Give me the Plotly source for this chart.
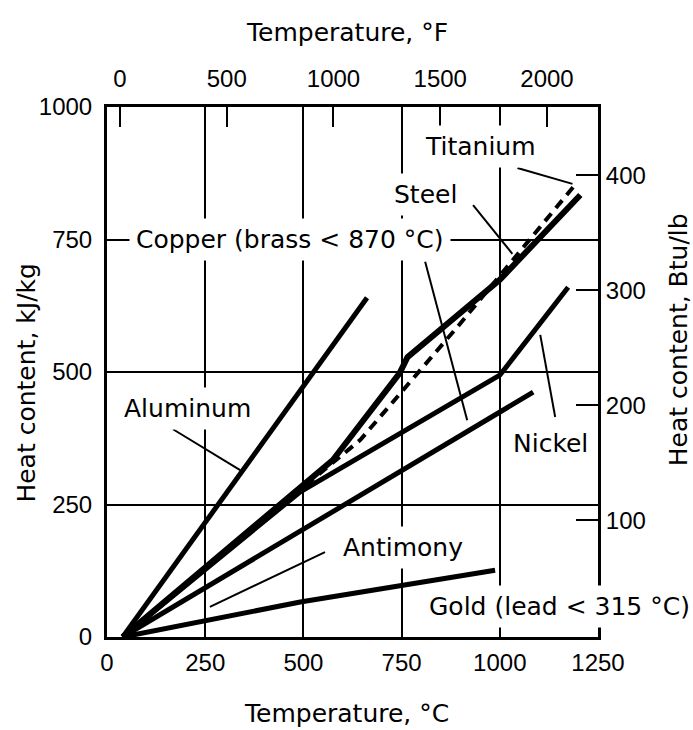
import plotly.graph_objects as go

# ---------------- data (°C, kJ/kg) ----------------
aluminum_T = [40, 662]
aluminum_H = [0, 640]

steel_T = [40, 575, 745, 765, 1000, 1205]
steel_H = [0, 334, 498, 528, 674, 834]

titanium_T = [40, 645, 892, 1197]
titanium_H = [0, 372, 585, 858]

nickel_T = [40, 492, 1000, 1174]
nickel_H = [0, 274, 494, 660]

copper_T = [40, 1085]
copper_H = [0, 462]

gold_T = [40, 492, 988]
gold_H = [0, 66, 126]

x_ticks_C = [0, 250, 500, 750, 1000, 1250]
y_ticks_kJ = [0, 250, 500, 750, 1000]
x_ticks_F = [0, 500, 1000, 1500, 2000]
y_ticks_Btu = [100, 200, 300, 400]

# ---------------- styling / layout ----------------
LABEL_FONT = dict(family="DejaVu Sans", size=25, color="black")
TICK_FONT = dict(family="Liberation Sans, Arial", size=24, color="black")

fig = go.Figure()

series = [
    ("Aluminum", aluminum_T, aluminum_H, dict(color="black", width=5)),
    ("Copper", copper_T, copper_H, dict(color="black", width=5)),
    ("Nickel", nickel_T, nickel_H, dict(color="black", width=5)),
    ("Gold", gold_T, gold_H, dict(color="black", width=5)),
    ("Titanium", titanium_T, titanium_H, dict(color="black", width=4, dash="10px,7px")),
    ("Steel", steel_T, steel_H, dict(color="black", width=6)),
]
for name, xs, ys, ln in series:
    fig.add_trace(go.Scatter(x=xs, y=ys, mode="lines", name=name, line=ln,
                             showlegend=False, hoverinfo="skip"))

# dummy trace so the secondary (°F / Btu/lb) axes are drawn
fig.add_trace(go.Scatter(x=[None], y=[None], xaxis="x2", yaxis="y2",
                         showlegend=False, hoverinfo="skip"))

# labels: (text, x °C, y kJ/kg)
labels = [
    ("Titanium", 950, 925),
    ("Steel", 810, 834),
    ("Copper (brass < 870 °C)", 466, 750),
    ("Aluminum", 206, 432),
    ("Nickel", 1129, 366),
    ("Antimony", 754, 168),
    ("Gold (lead < 315 °C)", 1152, 57),
]
for text, lx, ly in labels:
    fig.add_annotation(x=lx, y=ly, xref="x", yref="y", text=text, showarrow=False,
                       font=LABEL_FONT, bgcolor="white", borderpad=6)

# leader lines: (x0, y0, x1, y1) in °C, kJ/kg
leaders = [
    (168, 392, 339, 315),
    (810, 708, 917, 409),
    (932, 815, 1032, 723),
    (1045, 885, 1185, 855),
    (1141, 415, 1103, 570),
    (555, 160, 262, 57),
]
for x0, y0, x1, y1 in leaders:
    fig.add_shape(type="line", xref="x", yref="y", x0=x0, y0=y0, x1=x1, y1=y1,
                  line=dict(color="black", width=2), layer="above")

# axis titles
fig.add_annotation(text="Temperature, °C", xref="paper", yref="paper", x=0.488, y=-0.145,
                   showarrow=False, font=LABEL_FONT, yanchor="middle")
fig.add_annotation(text="Temperature, °F", xref="paper", yref="paper", x=0.488, y=1.14,
                   showarrow=False, font=LABEL_FONT, yanchor="middle")
fig.add_annotation(text="Heat content, kJ/kg", xref="paper", yref="paper", x=-0.163, y=0.48,
                   showarrow=False, font=LABEL_FONT, textangle=-90, xanchor="center")
fig.add_annotation(text="Heat content, Btu/lb", xref="paper", yref="paper", x=1.163, y=0.56,
                   showarrow=False, font=LABEL_FONT, textangle=-90, xanchor="center")

fig.update_layout(
    width=693, height=730,
    margin=dict(l=107, r=95, t=107, b=93, pad=0),
    paper_bgcolor="white", plot_bgcolor="white",
    showlegend=False,
    xaxis=dict(range=[0, 1250], tickvals=x_ticks_C, ticks="", showgrid=True,
               gridcolor="black", gridwidth=2, zeroline=False, showline=True,
               linecolor="black", linewidth=3, tickfont=TICK_FONT, ticklabelstandoff=2,
               fixedrange=True),
    yaxis=dict(range=[0, 1000], tickvals=y_ticks_kJ, ticks="", showgrid=True,
               gridcolor="black", gridwidth=2, zeroline=False, showline=True,
               linecolor="black", linewidth=3, tickfont=TICK_FONT, ticklabelstandoff=7,
               fixedrange=True),
    xaxis2=dict(overlaying="x", side="top", anchor="y", range=[-60.9, 2239],
                tickvals=x_ticks_F, ticks="inside", ticklen=20, tickwidth=2,
                tickcolor="black", showgrid=False, zeroline=False, showline=True,
                linecolor="black", linewidth=3, tickfont=TICK_FONT, ticklabelstandoff=7,
                fixedrange=True),
    yaxis2=dict(overlaying="y", side="right", anchor="x", range=[-1.5, 459.3],
                tickvals=y_ticks_Btu, ticks="inside", ticklen=22, tickwidth=2,
                tickcolor="black", showgrid=False, zeroline=False, showline=True,
                linecolor="black", linewidth=3, tickfont=TICK_FONT, ticklabelstandoff=0,
                fixedrange=True),
)

fig.write_html("out.html", config={"displayModeBar": False},
               post_script="document.body.style.margin='0px';")
